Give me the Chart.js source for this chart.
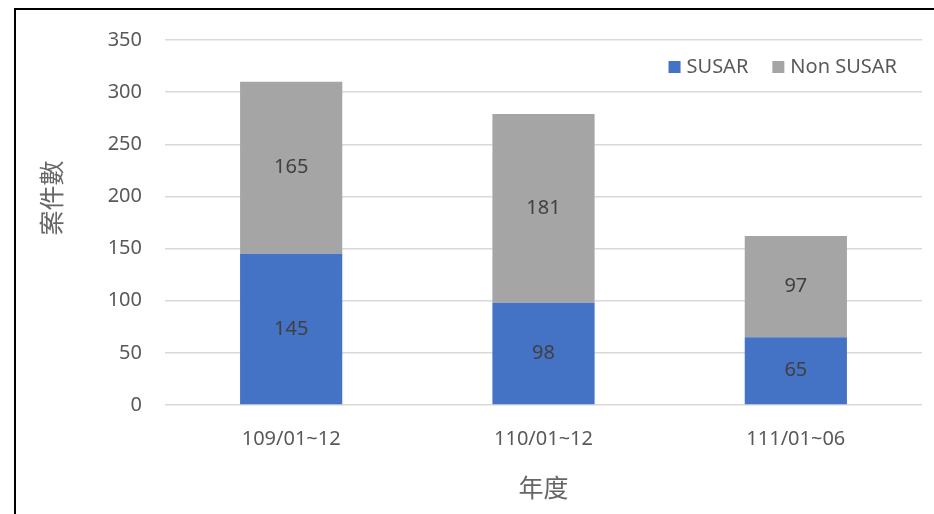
<!DOCTYPE html>
<html>
<head>
<meta charset="utf-8">
<script src="https://cdn.jsdelivr.net/npm/chart.js@4.4.1/dist/chart.umd.min.js"></script>
<style>
    html, body { margin: 0; padding: 0; background: #fff; }
    canvas { display: block; }
</style>
</head>
<body>
<canvas id="susarChart" width="934" height="514"></canvas>
<script>
const periods = ['109/01~12', '110/01~12', '111/01~06'];
const susarCounts = [145, 98, 65];
const nonSusarCounts = [165, 181, 97];
const yTicks = [0, 50, 100, 150, 200, 250, 300, 350];

const fontFamily = '"Noto Sans", "Noto Sans CJK TC", sans-serif';
const cjkFamily = '"Noto Sans CJK TC", sans-serif';
const textColor = '#595959';
const titleColor = '#666666';

// Black frame along the top and left edges
const framePlugin = {
    id: 'framePlugin',
    beforeDraw(chart)
    {
        const { ctx } = chart;
        ctx.save();
        ctx.strokeStyle = '#000';
        ctx.lineWidth = 2;
        ctx.beginPath();
        ctx.moveTo(15, 514);
        ctx.lineTo(15, 9);
        ctx.lineTo(934, 9);
        ctx.stroke();
        ctx.restore();
    }
};

// Value printed in the middle of every bar segment
const segmentLabelPlugin = {
    id: 'segmentLabelPlugin',
    afterDatasetsDraw(chart)
    {
        const { ctx } = chart;
        ctx.save();
        ctx.font = '20px ' + fontFamily;
        ctx.fillStyle = '#404040';
        ctx.textAlign = 'center';
        ctx.textBaseline = 'middle';
        chart.data.datasets.forEach((ds, i) =>
        {
            chart.getDatasetMeta(i).data.forEach((bar, j) =>
            {
                ctx.fillText(ds.data[j], bar.x, (bar.y + bar.base) / 2);
            });
        });
        ctx.restore();
    }
};

// Legend drawn inside the plot, top right corner
const innerLegendPlugin = {
    id: 'innerLegendPlugin',
    afterDraw(chart)
    {
        const { ctx, chartArea } = chart;
        const box = 12;
        ctx.save();
        ctx.font = '20px ' + fontFamily;
        ctx.textBaseline = 'middle';
        ctx.textAlign = 'left';
        const y = chartArea.top + 27;
        let x = chartArea.right - 25;
        const items = chart.data.datasets.slice().reverse();
        items.forEach((ds) =>
        {
            const w = ctx.measureText(ds.label).width;
            x -= w;
            ctx.fillStyle = textColor;
            ctx.fillText(ds.label, x, y);
            x -= 6 + box;
            ctx.fillStyle = ds.backgroundColor;
            ctx.fillRect(x, y - box / 2, box, box);
            x -= 24;
        });
        ctx.restore();
    }
};

// Vertical y axis title, sitting a bit above the middle of the axis
const yTitlePlugin = {
    id: 'yTitlePlugin',
    afterDraw(chart)
    {
        const { ctx } = chart;
        ctx.save();
        ctx.translate(51, 198);
        ctx.rotate(-Math.PI / 2);
        ctx.font = '25px ' + cjkFamily;
        ctx.fillStyle = titleColor;
        ctx.textAlign = 'center';
        ctx.textBaseline = 'middle';
        ctx.fillText('案件數', 0, 0);
        ctx.restore();
    }
};

new Chart(document.getElementById('susarChart').getContext('2d'), {
    type: 'bar',
    data: {
        labels: periods,
        datasets: [
            { label: 'SUSAR', data: susarCounts, backgroundColor: '#4472C4' },
            { label: 'Non SUSAR', data: nonSusarCounts, backgroundColor: '#A5A5A5' }
        ]
    },
    options: {
        responsive: false,
        animation: false,
        categoryPercentage: 1,
        barPercentage: 0.405,
        layout: {
            padding: { left: 35, top: 40, right: 12, bottom: 12 }
        },
        plugins: {
            tooltip: { enabled: false },
            legend: { display: false }
        },
        scales: {
            x: {
                stacked: true,
                grid: { display: false },
                border: { display: false },
                ticks: {
                    color: textColor,
                    font: { family: fontFamily, size: 20 },
                    padding: 14
                },
                title: {
                    display: true,
                    text: '年度',
                    color: titleColor,
                    font: { family: cjkFamily, size: 25 },
                    padding: { top: 6, bottom: 0 }
                },
                afterFit: s => { s.height = 97; }
            },
            y: {
                stacked: true,
                min: 0,
                max: 350,
                afterBuildTicks: s => { s.ticks = yTicks.map(v => ({ value: v })); },
                grid: { color: '#D9D9D9', lineWidth: 1.5, drawTicks: false },
                border: { display: false },
                ticks: {
                    color: textColor,
                    font: { family: fontFamily, size: 20 },
                    padding: 23
                },
                afterFit: s => { s.width = 130; }
            }
        }
    },
    plugins: [framePlugin, segmentLabelPlugin, innerLegendPlugin, yTitlePlugin]
});
</script>
</body>
</html>
